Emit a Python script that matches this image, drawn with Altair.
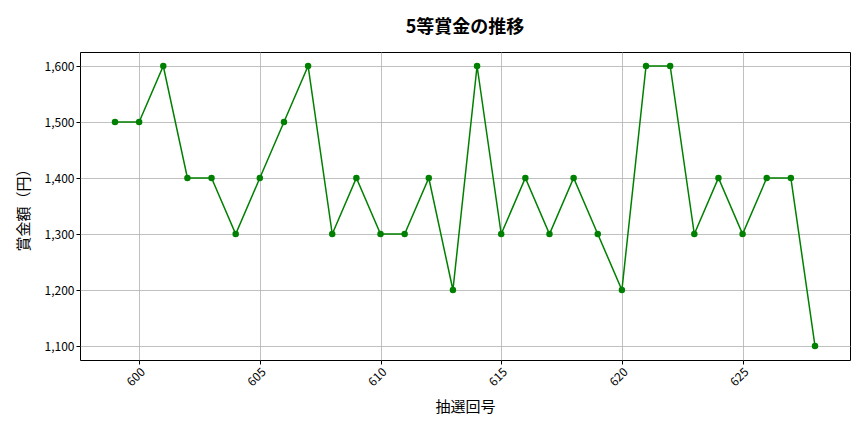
import altair as alt
import pandas as pd

draws = list(range(599, 629))
prizes = [1500, 1500, 1600, 1400, 1400, 1300, 1400, 1500, 1600, 1300,
          1400, 1300, 1300, 1400, 1200, 1600, 1300, 1400, 1300, 1400,
          1300, 1200, 1600, 1600, 1300, 1400, 1300, 1400, 1400, 1100]
x_ticks = [600, 605, 610, 615, 620, 625]
y_ticks = [1100, 1200, 1300, 1400, 1500, 1600]

df = pd.DataFrame({"draw": draws, "prize": prizes})
FONT = "Noto Sans CJK JP"

base = alt.Chart(df).encode(
    x=alt.X("draw:Q",
            scale=alt.Scale(domain=[597.55, 629.45], nice=False, zero=False),
            axis=alt.Axis(values=x_ticks, format="d", title="抽選回号", labelAngle=-45,
                          labelFontSize=12, titleFontSize=15, titleFontWeight="normal",
                          titlePadding=12, tickColor="black", tickSize=4,
                          labelColor="black", titleColor="black",
                          gridColor="#b0b0b0", gridWidth=0.8, domain=False)),
    y=alt.Y("prize:Q",
            scale=alt.Scale(domain=[1075, 1625], nice=False, zero=False),
            axis=alt.Axis(values=y_ticks, format=",d", title="賞金額（円）",
                          labelFontSize=12, titleFontSize=15, titleFontWeight="normal",
                          titlePadding=13, tickColor="black", tickSize=4,
                          labelColor="black", titleColor="black",
                          gridColor="#b0b0b0", gridWidth=0.8, domain=False)),
)

line = base.mark_line(color="green", strokeWidth=1.5)
pts = base.mark_circle(color="green", size=42, opacity=1)

chart = (line + pts).properties(
    width=770, height=308,
    title=alt.Title("5等賞金の推移", fontSize=18, fontWeight="bold", font=FONT,
                    anchor="middle", offset=15, color="black"),
    padding={"left": 72, "top": 44, "right": 6, "bottom": 64},
    autosize=alt.AutoSizeParams(type="none"),
).configure(font=FONT).configure_view(stroke="black", strokeWidth=1)

chart.save("out.html", embed_options={"renderer": "svg", "actions": False})
